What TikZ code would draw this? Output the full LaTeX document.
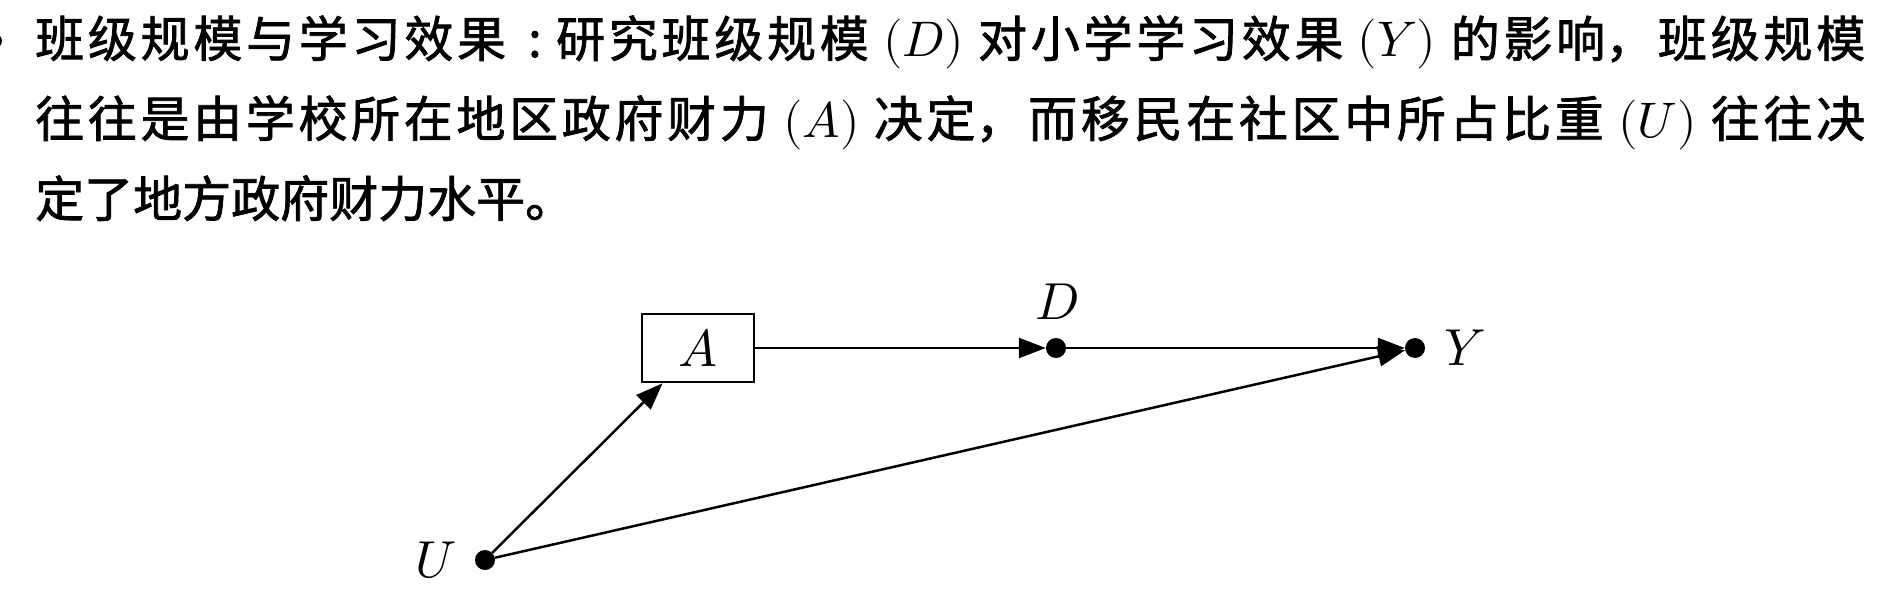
\documentclass[tikz,border=0pt]{standalone}
\usepackage{fontspec}
\usepackage{unicode-math}
\setmathfont{Latin Modern Math}
\newfontfamily\cjk[FakeBold=1.5]{Noto Sans CJK SC}
\usetikzlibrary{arrows.meta}
\XeTeXlinebreaklocale "zh"
\XeTeXlinebreakskip=0pt plus 6pt
\newcommand\mth[1]{{\fontsize{50}{80}\selectfont$(#1)$}}
\newcommand\cjkcolon{\hbox to 50pt{\hskip 22pt :\hss}}
\begin{document}
\begin{tikzpicture}[x=1pt,y=-1pt,
  txt/.style={anchor=base west, inner sep=0pt, font=\cjk\fontsize{49}{80}\selectfont},
  jline/.style={txt, text width=1830pt, align=justify},
  dot/.style={circle, fill=black, inner sep=0pt, minimum size=20pt},
  box/.style={draw, line width=2.5pt, minimum width=112pt, minimum height=68pt, inner sep=0pt, font=\fontsize{52}{60}\selectfont},
  lbl/.style={inner sep=0pt, font=\fontsize{52}{60}\selectfont},
  arr/.style={line width=2.5pt, -{Triangle[length=27pt,width=20pt]}}]
\fill[white] (0,0) rectangle (1900,594);
\useasboundingbox (0,0) rectangle (1900,594);
\fill (-5,41) circle[radius=7];
\node[jline] (l1) at (35,57) {\parindent=0pt\parfillskip=0pt\noindent 班级规模与学习效果\cjkcolon 研究班级规模 \mth{D} 对小学学习效果 \mth{Y} 的影响，班级规模\par};
\node[jline] (l2) at (35,137) {\parindent=0pt\parfillskip=0pt\noindent 往往是由学校所在地区政府财力 \mth{A} 决定，而移民在社区中所占比重 \mth{U} 往往决\par};
\node[txt] (l3) at (35,217) {定了地方政府财力水平。};
\node[box] (A) at (698,348) {$A$};
\node[dot] (D) at (1056,348) {};
\node[dot] (Y) at (1415,348) {};
\node[dot] (U) at (485,560) {};
\node[lbl] (Ul) at (436,560) {$U$};
\node[lbl] (Dl) at (1057,302) {$D$};
\node[lbl] (Yl) at (1465,348) {$Y$};
\draw[arr] (A) -- (D);
\draw[arr] (D) -- (Y);
\draw[arr] (U) -- (A);
\draw[arr] (U) -- (Y);
\end{tikzpicture}
\end{document}
